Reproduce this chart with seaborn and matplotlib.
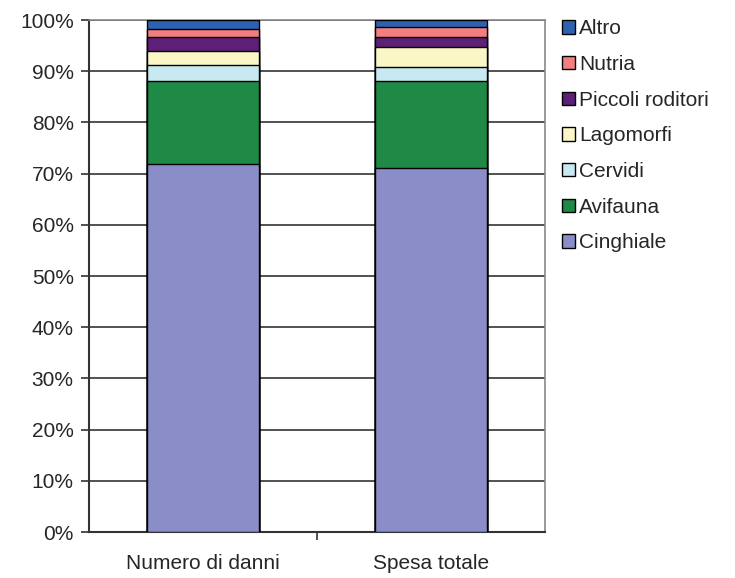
import matplotlib
matplotlib.use("Agg")
import matplotlib.pyplot as plt
from matplotlib.patches import Patch
from matplotlib.ticker import FixedLocator, PercentFormatter
import seaborn as sns
import pandas as pd
import numpy as np

categories = ["Numero di danni", "Spesa totale"]
series = ["Cinghiale", "Avifauna", "Cervidi", "Lagomorfi", "Piccoli roditori", "Nutria", "Altro"]
cinghiale = [71.8, 71.0]
avifauna = [16.3, 17.1]
cervidi = [3.1, 2.8]
lagomorfi = [2.7, 3.8]
piccoli_roditori = [2.8, 2.0]
nutria = [1.6, 2.0]
altro = [1.7, 1.3]
colors = ["#8B8DC8", "#1E8A46", "#C8E8F2", "#FBF6C6", "#5E2077", "#F27E80", "#2E62B0"]

values = [cinghiale, avifauna, cervidi, lagomorfi, piccoli_roditori, nutria, altro]
df = pd.DataFrame(np.array(values).T, columns=series)
df.insert(0, "categoria", categories)

sns.set_style("white")
plt.rcParams["font.family"] = ["Liberation Sans", "DejaVu Sans"]

fig = plt.figure(figsize=(7.35, 5.78), dpi=100)
ax = fig.add_axes([89 / 735, 1 - 532 / 578, 456 / 735, 512 / 578])

# stacked bars: draw cumulative totals from the top segment down
cum = df[series].cumsum(axis=1)
for name, col in reversed(list(zip(series, colors))):
    sns.barplot(x=df["categoria"], y=cum[name], color=col, width=0.49,
                edgecolor="black", linewidth=1.0, saturation=1, ax=ax, zorder=3)

ax.set_ylim(0, 100)
ax.set_xlim(-0.5, 1.5)
ax.yaxis.set_major_locator(FixedLocator(np.arange(0, 101, 10)))
ax.yaxis.set_major_formatter(PercentFormatter(decimals=0))
ax.grid(axis="y", color="#333333", linewidth=1.2, zorder=0)
ax.set_xlabel("")
ax.set_ylabel("")

ax.xaxis.set_minor_locator(FixedLocator([0.5]))
ax.tick_params(axis="x", which="major", length=0, pad=16, labelsize=15)
ax.tick_params(axis="x", which="minor", length=6, width=1.2, color="#333333", direction="out", bottom=True)
ax.tick_params(axis="y", length=6, width=1.2, color="#333333", direction="out", left=True, labelsize=15, pad=5)

for side in ["left", "bottom"]:
    ax.spines[side].set_color("#333333")
    ax.spines[side].set_linewidth(1.5)
for side in ["top", "right"]:
    ax.spines[side].set_color("#888888")
    ax.spines[side].set_linewidth(1.2)
    ax.spines[side].set_visible(True)

handles = [Patch(facecolor=c, edgecolor="black", linewidth=1.0, label=s)
           for s, c in zip(series, colors)][::-1]
fig.legend(handles=handles, loc="upper left", bbox_to_anchor=(554 / 735, 1 - 11 / 578),
           frameon=False, fontsize=15, handlelength=0.6, handleheight=0.6,
           handletextpad=0.2, labelspacing=0.8, borderaxespad=0)

fig.savefig("out.png", dpi=100)
